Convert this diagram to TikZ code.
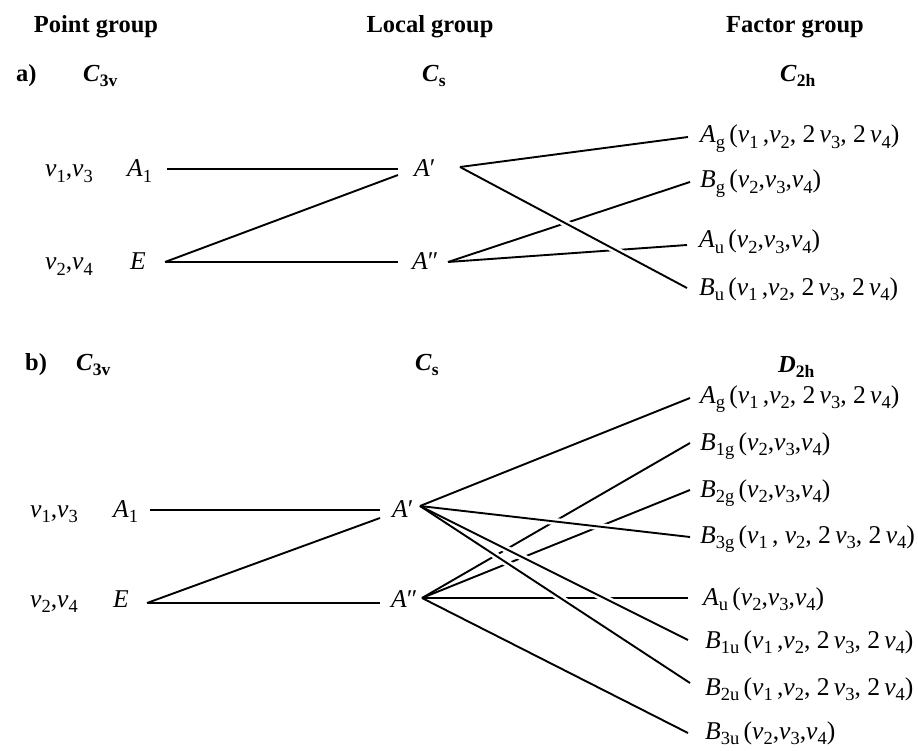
\documentclass[tikz,border=0pt]{standalone}
\usepackage{fontspec}
\setmainfont{Liberation Serif}
\newcommand{\sbs}[1]{\raisebox{-5.5pt}{\fontsize{18.5}{18}\selectfont\upshape #1}}
\newcommand{\nv}[1]{\textit{ν}\sbs{#1}}
\newcommand{\sy}[2]{\textit{#1}\sbs{#2}}
\newcommand{\bsy}[2]{\textbf{\textit{#1}}\raisebox{-5pt}{\fontsize{17.5}{18}\selectfont\bfseries\upshape #2}}
\begin{document}
\begin{tikzpicture}[x=1pt,y=-1pt,
  hdr/.style={font=\fontsize{24.5}{28}\selectfont\bfseries, inner sep=0pt, anchor=base},
  grp/.style={font=\fontsize{24.5}{28}\selectfont, inner sep=0pt, anchor=base west},
  lbl/.style={font=\fontsize{25.6}{30}\selectfont, inner sep=0pt, anchor=base west},
  conn/.style={line width=1.9pt},
  halo/.style={white, line width=7pt}]
\useasboundingbox (0,0) rectangle (918,751);
% headers
\node[hdr] (hpg) at (96,33) {Point group};
\node[hdr] (hlg) at (430,33) {Local group};
\node[hdr] (hfg) at (795,33) {Factor group};
% ---------- a) ----------
\node[grp] (la) at (16,82) {\textbf{a)}};
\node[grp] (aC3v) at (83,82) {\bsy{C}{3v}};
\node[grp] (aCs) at (422,82) {\bsy{C}{s}};
\node[grp] (aC2h) at (780,82) {\bsy{C}{2h}};
\node[lbl] (an13) at (45,177) {\nv{1},\nv{3}};
\node[lbl] (aA1) at (127,177) {\sy{A}{1}};
\node[lbl] (an24) at (45,270) {\nv{2},\nv{4}};
\node[lbl] (aE) at (130,270) {\textit{E}};
\node[lbl] (aAp) at (414,177) {\textit{A}′};
\node[lbl] (aApp) at (412,270) {\textit{A}″};
\node[lbl] (aAg) at (700,143) {\sy{A}{g}\,(\nv{1}\,,\nv{2}, 2\,\nv{3}, 2\,\nv{4})};
\node[lbl] (aBg) at (700,188) {\sy{B}{g}\,(\nv{2},\nv{3},\nv{4})};
\node[lbl] (aAu) at (699,248) {\sy{A}{u}\,(\nv{2},\nv{3},\nv{4})};
\node[lbl] (aBu) at (699,295) {\sy{B}{u}\,(\nv{1}\,,\nv{2}, 2\,\nv{3}, 2\,\nv{4})};
\coordinate (aA1r) at (167,169);
\coordinate (aEr) at (165,262);
\coordinate (aApl) at (398,169);
\coordinate (aApl2) at (398,175);
\coordinate (aAppl) at (398,262);
\coordinate (aApr) at (460,167);
\coordinate (aAppr) at (448,262);
\coordinate (aAgl) at (688,137);
\coordinate (aBgl) at (690,182);
\coordinate (aAul) at (687,245);
\coordinate (aBul) at (687,288);
\draw[conn] (aA1r) -- (aApl);
\draw[conn] (aEr) -- (aAppl);
\draw[conn] (aEr) -- (aApl2);
\draw[conn] (aAppr) -- (aBgl);
\draw[conn] (aAppr) -- (aAul);
\draw[halo] (aApr) -- (aBul);
\draw[conn] (aApr) -- (aAgl);
\draw[conn] (aApr) -- (aBul);
% ---------- b) ----------
\node[grp] (lb) at (25,370) {\textbf{b)}};
\node[grp] (bC3v) at (76,370) {\bsy{C}{3v}};
\node[grp] (bCs) at (415,370) {\bsy{C}{s}};
\node[grp] (bD2h) at (778,372) {\bsy{D}{2h}};
\node[lbl] (bn13) at (30,517) {\nv{1},\nv{3}};
\node[lbl] (bA1) at (113,517) {\sy{A}{1}};
\node[lbl] (bn24) at (30,607) {\nv{2},\nv{4}};
\node[lbl] (bE) at (113,607) {\textit{E}};
\node[lbl] (bAp) at (392,517) {\textit{A}′};
\node[lbl] (bApp) at (391,607) {\textit{A}″};
\node[lbl] (bAg) at (700,403) {\sy{A}{g}\,(\nv{1}\,,\nv{2},\ 2\,\nv{3},\ 2\,\nv{4})};
\node[lbl] (bB1g) at (700,450) {\sy{B}{1g}\,(\nv{2},\nv{3},\nv{4})};
\node[lbl] (bB2g) at (700,497) {\sy{B}{2g}\,(\nv{2},\nv{3},\nv{4})};
\node[lbl] (bB3g) at (700,543) {\sy{B}{3g}\,(\nv{1}\,,\ \nv{2}, 2\,\nv{3}, 2\,\nv{4})};
\node[lbl] (bAu) at (703,605) {\sy{A}{u}\,(\nv{2},\nv{3},\nv{4})};
\node[lbl] (bB1u) at (705,648) {\sy{B}{1u}\,(\nv{1}\,,\nv{2}, 2\,\nv{3}, 2\,\nv{4})};
\node[lbl] (bB2u) at (705,695) {\sy{B}{2u}\,(\nv{1}\,,\nv{2}, 2\,\nv{3}, 2\,\nv{4})};
\node[lbl] (bB3u) at (705,739) {\sy{B}{3u}\,(\nv{2},\nv{3},\nv{4})};
\coordinate (bA1r) at (150,510);
\coordinate (bEr) at (147,603);
\coordinate (bApl) at (380,510);
\coordinate (bApl2) at (380,518);
\coordinate (bAppl) at (380,603);
\coordinate (bApr) at (420,506);
\coordinate (bAppr) at (422,598);
\coordinate (bAgl) at (690,398);
\coordinate (bB1gl) at (690,443);
\coordinate (bB2gl) at (690,490);
\coordinate (bB3gl) at (690,537);
\coordinate (bAul) at (688,598);
\coordinate (bB1ul) at (688,640);
\coordinate (bB2ul) at (690,683);
\coordinate (bB3ul) at (688,733);
\draw[conn] (bA1r) -- (bApl);
\draw[conn] (bEr) -- (bAppl);
\draw[conn] (bEr) -- (bApl2);
\foreach \t in {bB1gl,bB2gl,bAul,bB3ul} \draw[conn] (bAppr) -- (\t);
\foreach \t in {bB3gl,bB1ul,bB2ul} \draw[halo] (bApr) -- (\t);
\foreach \t in {bAgl,bB3gl,bB1ul,bB2ul} \draw[conn] (bApr) -- (\t);
\end{tikzpicture}
\end{document}
